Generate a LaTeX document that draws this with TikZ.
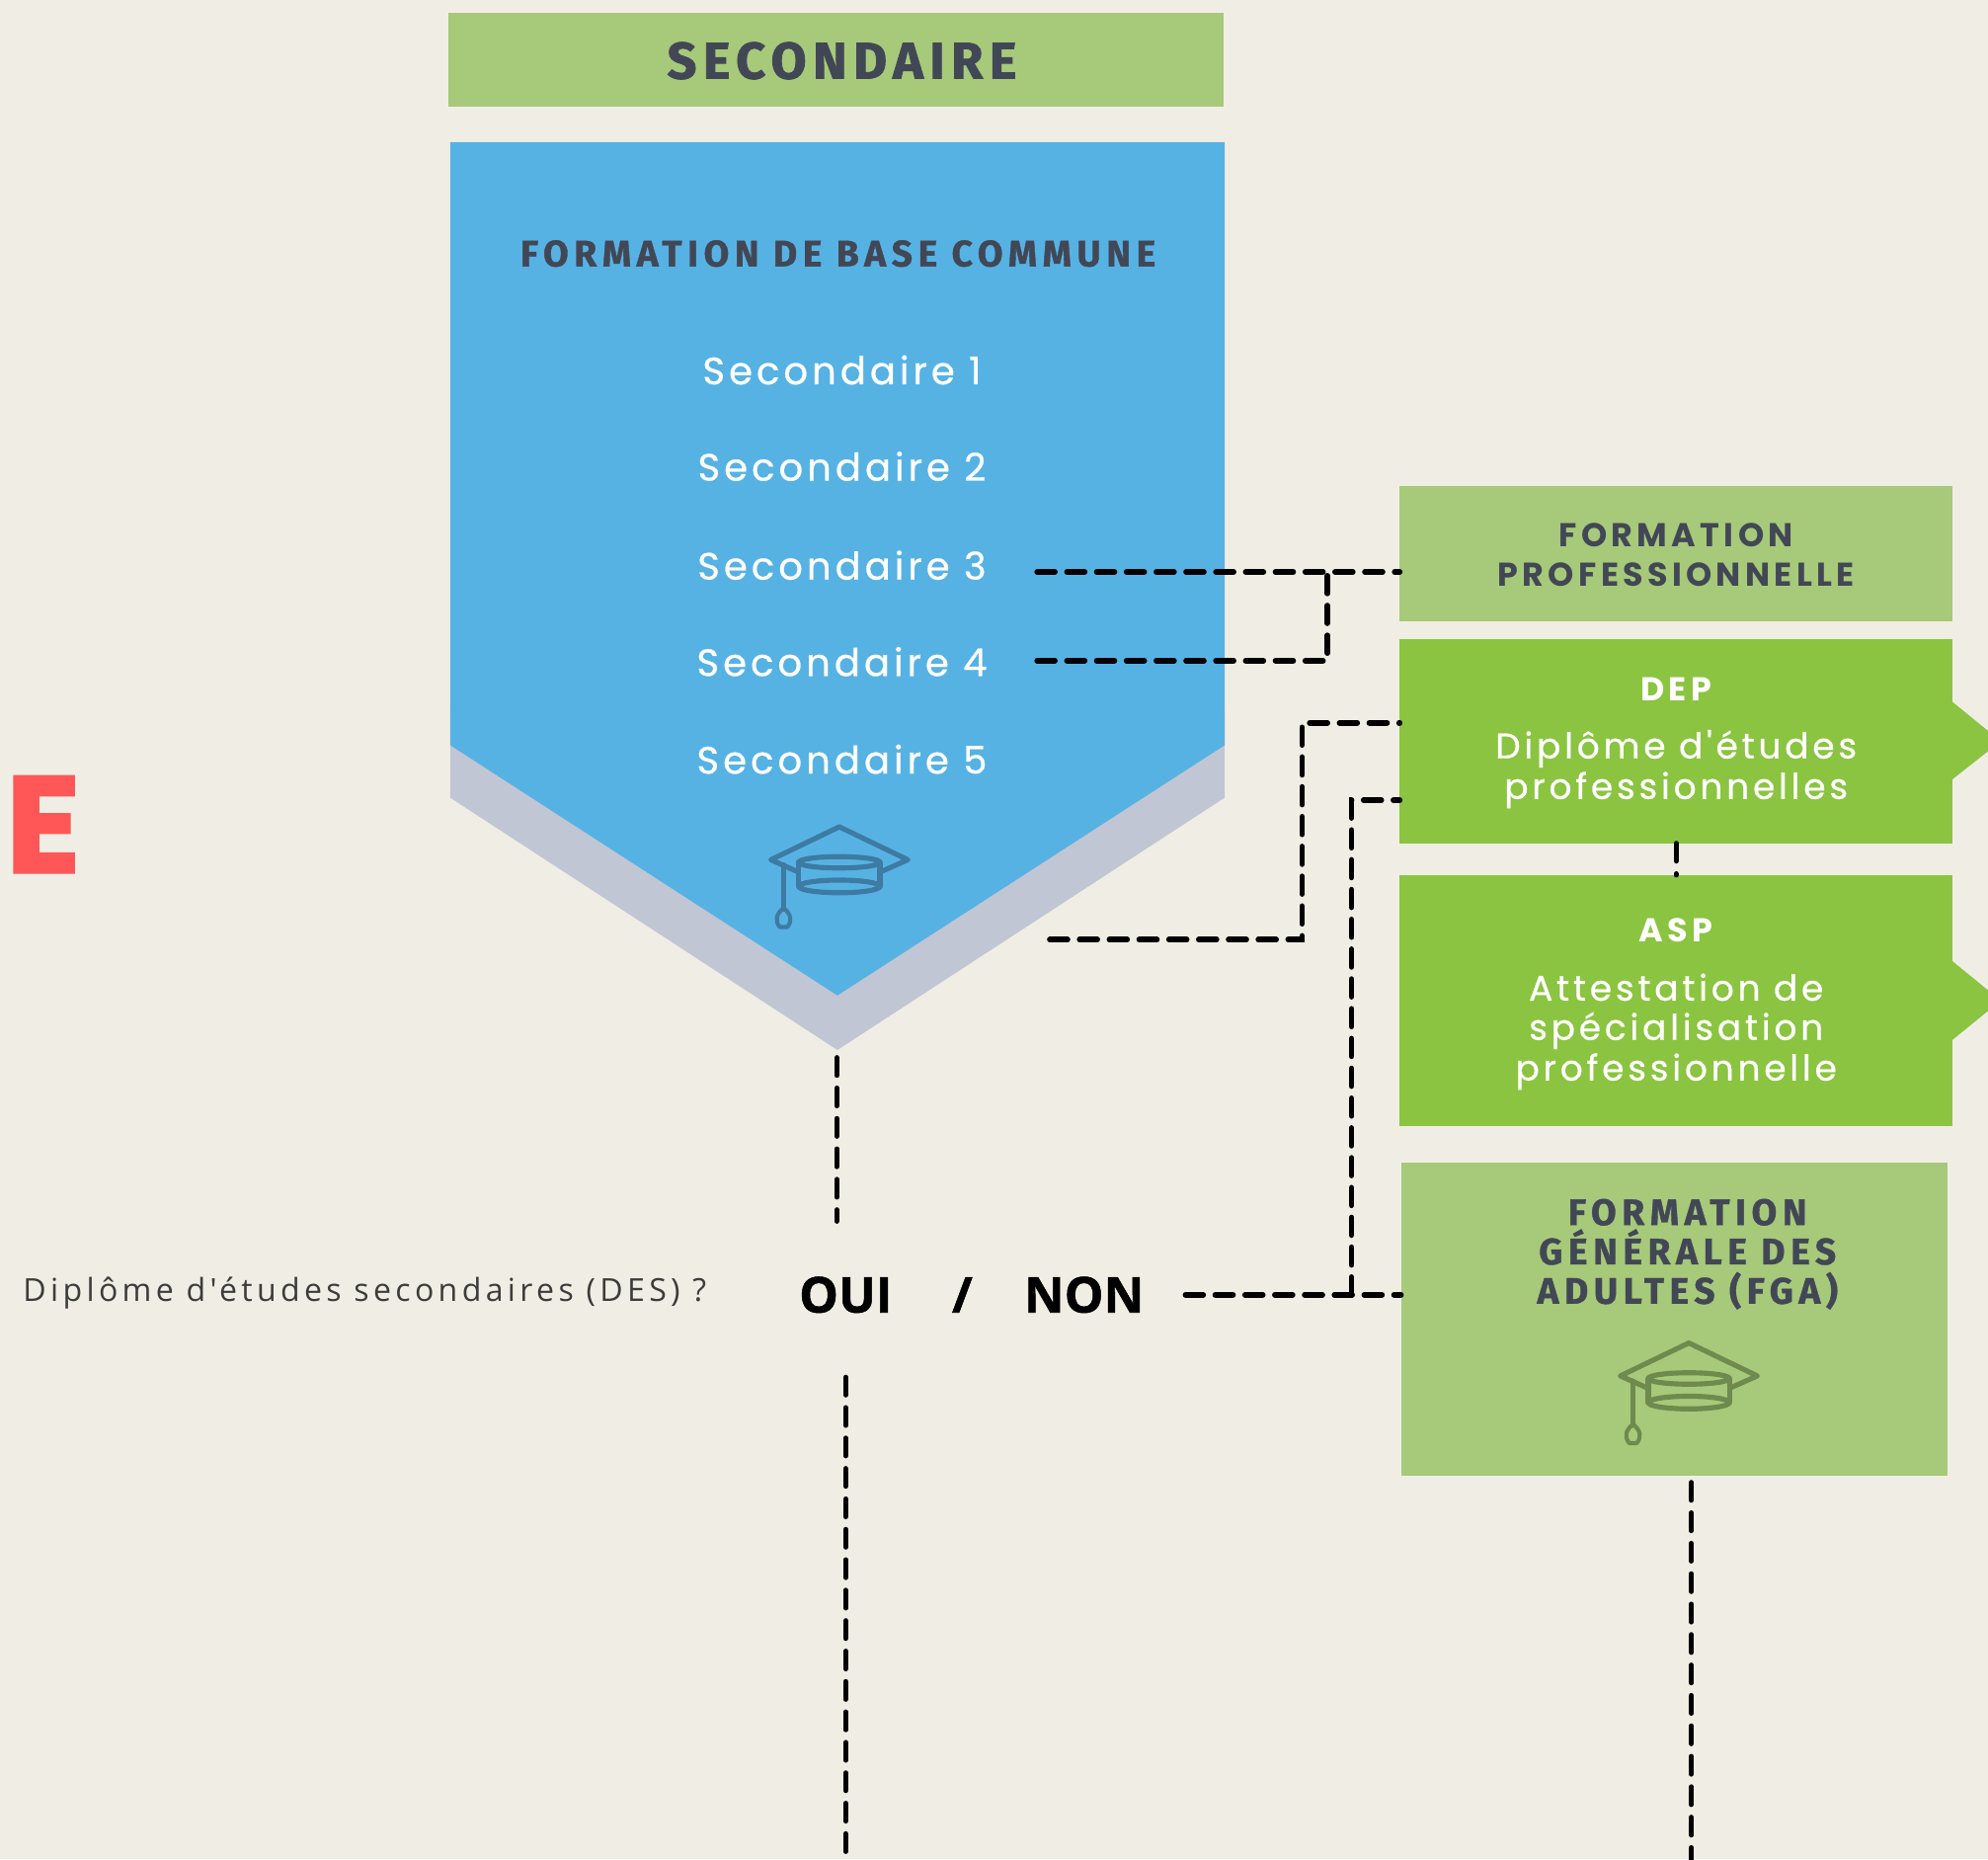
\documentclass[tikz,border=0pt]{standalone}
\usepackage{fontspec}
\usepackage{graphicx}
\setmainfont{Poppins}
\newfontfamily\secf[LetterSpace=12.5,FakeBold=1.5]{Fira Sans}
\newfontfamily\hdf[LetterSpace=15,FakeBold=1]{Fira Sans}
\newfontfamily\wdf[LetterSpace=13]{Poppins}
\newfontfamily\bodyf[LetterSpace=10.5,FakeBold=0.6]{Poppins}
\newfontfamily\qf[LetterSpace=13.5]{Open Sans}
\newfontfamily\onf[FakeBold=1]{Open Sans}
\newfontfamily\bigEf[FakeBold=2]{Poppins}
\definecolor{bgc}{HTML}{F0EEE4}
\definecolor{lgreen}{HTML}{A7C97A}
\definecolor{dgreen}{HTML}{8BC441}
\definecolor{blu}{HTML}{57B2E4}
\definecolor{bandc}{HTML}{C1C6D5}
\definecolor{dk}{HTML}{424756}
\definecolor{iconb}{HTML}{3D7BA3}
\definecolor{icong}{HTML}{6E8A4E}
\definecolor{redE}{HTML}{FF5757}
\definecolor{qtext}{HTML}{3C3C3C}
\newcommand\gradcap[4]{%
  \begin{scope}[shift={(#1,#2)}, line width=4pt, line join=round, line cap=round]
    \draw[#3] (0,0) -- (54,26) -- (0,50) -- (-54,26) -- cycle;
    \fill[#4] (-32,28) rectangle (32,47);
    \fill[#4] (0,47) ellipse [x radius=32, y radius=5];
    \draw[#3] (0,28) ellipse [x radius=32, y radius=4.5];
    \draw[#3] (-32,28) -- (-32,47);
    \draw[#3] (32,28) -- (32,47);
    \draw[#3] (0,47) ellipse [x radius=32, y radius=5];
    \draw[#3] (-44,30) -- (-44,65);
    \draw[#3, line width=3.2pt] (-44,64) .. controls (-50,69) and (-51,74) .. (-47,79) -- (-41,79) .. controls (-37,74) and (-38,69) .. (-44,64) -- cycle;
  \end{scope}}
\begin{document}
\begin{tikzpicture}[x=1pt,y=-1pt,
  box/.style={inner sep=0pt, outer sep=0pt, anchor=north west},
  dline/.style={line width=4.4pt, dash pattern=on 14pt off 9.5pt, line cap=round},
  vline/.style={line width=4pt, dash pattern=on 14pt off 10pt, line cap=round},
  hd/.style={font=\hdf\bfseries\fontsize{29}{34}\selectfont, text=dk, anchor=base, inner sep=0pt},
  wd/.style={font=\wdf\bfseries\fontsize{26}{31}\selectfont, anchor=base, inner sep=0pt},
  wt/.style={font=\bodyf\fontsize{28}{32}\selectfont, text=white, anchor=base, inner sep=0pt},
  sec/.style={font=\bodyf\fontsize{30}{34}\selectfont, text=white, anchor=base, inner sep=0pt},
  big/.style={font=\onf\bfseries\fontsize{39}{44}\selectfont, anchor=base, inner sep=0pt}]
\useasboundingbox (0,0) rectangle (1568,1466);
\fill[bgc] (0,0) rectangle (1568,1466);
% SECONDAIRE header
\node[box, fill=lgreen, minimum width=611pt, minimum height=74pt] (secbox) at (354,10) {};
\node[hd, font=\secf\bfseries\fontsize{40.6}{48}\selectfont] (secT) at (664,62) {SECONDAIRE};
% pentagon
\fill[bandc] (355,560) -- (966,560) -- (966,629) -- (660.5,828) -- (355,629) -- cycle;
\fill[blu] (355,112) -- (966,112) -- (966,587.6) -- (660.5,785) -- (355,587.6) -- cycle;
\node[hd] (fbc) at (661,210) {FORMATION DE BASE COMMUNE};
\node[sec] (s1) at (664,303) {Secondaire 1};
\node[sec] (s2) at (664,379) {Secondaire 2};
\node[sec] (s3) at (664,457) {Secondaire 3};
\node[sec] (s4) at (664,533) {Secondaire 4};
\node[sec] (s5) at (664,610) {Secondaire 5};
\gradcap{662}{652}{draw=iconb}{blu}
% right boxes
\node[box, fill=lgreen, minimum width=436pt, minimum height=107pt] (fp) at (1104,383) {};
\node[wd, text=dk] (fp1) at (1322,431) {FORMATION};
\node[wd, text=dk] (fp2) at (1322,462) {PROFESSIONNELLE};
\node[box, fill=dgreen, minimum width=436pt, minimum height=161pt] (dep) at (1104,504) {};
\fill[dgreen] ([yshift=-30pt]dep.east) -- ([xshift=38pt]dep.east) -- ([yshift=31pt]dep.east) -- cycle;
\node[wd, text=white] (depT) at (1322,553) {DEP};
\node[wt] (dep1) at (1322,598) {Diplôme d'études};
\node[wt] (dep2) at (1322,630) {professionnelles};
\node[box, fill=dgreen, minimum width=436pt, minimum height=198pt] (asp) at (1104,690) {};
\fill[dgreen] ([yshift=-31pt]asp.east) -- ([xshift=38pt]asp.east) -- ([yshift=31pt]asp.east) -- cycle;
\node[wd, text=white] (aspT) at (1322,743) {ASP};
\node[wt] (asp1) at (1322,789) {Attestation de};
\node[wt] (asp2) at (1322,820) {spécialisation};
\node[wt] (asp3) at (1322,852) {professionnelle};
\node[box, fill=lgreen, minimum width=431pt, minimum height=247pt] (fga) at (1105,917) {};
\node[hd] (fga1) at (1331,966) {FORMATION};
\node[hd] (fga2) at (1331,997) {GÉNÉRALE DES};
\node[hd] (fga3) at (1331,1028) {ADULTES (FGA)};
\gradcap{1332}{1059}{draw=icong}{lgreen}
% left
\node[anchor=base, inner sep=0pt, text=redE, font=\bigEf\bfseries\fontsize{108}{112}\selectfont] (bigE) at (34,688) {E};
\node[anchor=base west, inner sep=0pt, text=qtext, font=\qf\fontsize{25}{28}\selectfont] (quest) at (18,1026) {Diplôme d'études secondaires (DES) ?};
\node[big] (oui) at (667,1035) {OUI};
\node[big] (slash) at (759,1035) {/};
\node[big] (non) at (855,1035) {NON};
% connectors
\coordinate (s3r) at (818,451);
\coordinate (s4r) at (818,521);
\coordinate (j1) at (1047,451);
\coordinate (p5r) at (828,741);
\coordinate (k1) at (1027,570);
\coordinate (nonr) at (935,1021);
\coordinate (j2) at (1066,1021);
\coordinate (k2) at (1066,631);
\coordinate (ptip) at (660,834);
\coordinate (ouiT) at (660,963);
\coordinate (ouiB) at (667,1086);
\coordinate (bot1) at (667,1472);
\coordinate (fgab) at (1334,1169);
\coordinate (bot2) at (1334,1472);
\draw[dline] (s3r) -- (s3r -| fp.west);
\draw[dline] (s4r) -| (j1);
\draw[dline] (p5r) -| (k1) -- (k1 -| dep.west);
\draw[dline] (nonr) -- (nonr -| fga.west);
\draw[dline] (j2) -- (k2) -- (k2 -| dep.west);
\draw[vline] (ptip) -- (ouiT);
\draw[vline] (ouiB) -- (bot1);
\draw[vline] (fgab) -- (bot2);
\draw[vline] (dep.south) -- (asp.north);
\end{tikzpicture}
\end{document}
